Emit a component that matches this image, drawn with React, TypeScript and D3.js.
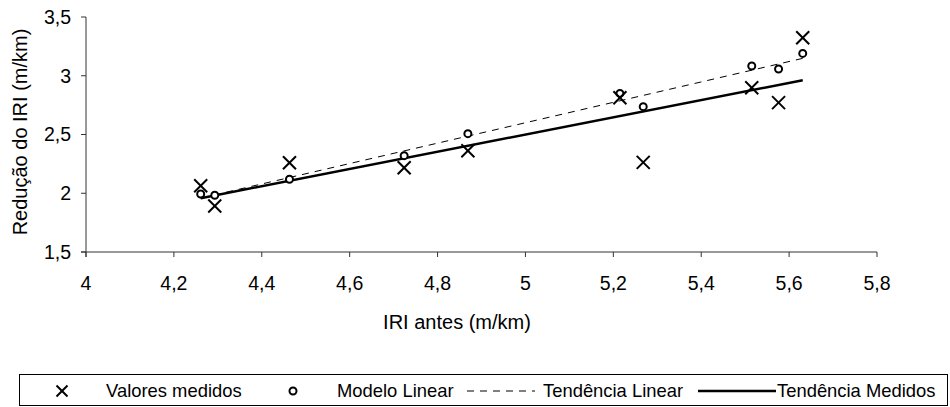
import React from 'react';
import { scaleLinear, line, mean, sum } from 'd3';

const width = 950;
const height = 407;
const margins = { top: 17, bottom: 155, left: 86, right: 73 };

// IRI antes (m/km)
const iriAntes = [4.261, 4.293, 4.463, 4.724, 4.869, 5.215, 5.268, 5.515, 5.576, 5.631];
// Valores medidos - reducao do IRI
const valoresMedidos = [2.064, 1.891, 2.26, 2.217, 2.362, 2.813, 2.263, 2.898, 2.771, 3.324];
// Modelo Linear
const modeloLinear = [1.994, 1.983, 2.119, 2.32, 2.507, 2.85, 2.737, 3.083, 3.057, 3.19];

const xTicks = [4, 4.2, 4.4, 4.6, 4.8, 5, 5.2, 5.4, 5.6, 5.8];
const yTicks = [1.5, 2, 2.5, 3, 3.5];

const fmt = (v: number) => String(v).replace('.', ',');
const font = 'Arial, "Liberation Sans", sans-serif';

// least squares trend line (like excel trendline)
function trend(xs: number[], ys: number[]) {
  const mx = mean(xs) as number;
  const my = mean(ys) as number;
  const sxy = sum(xs.map((x, i) => (x - mx) * (ys[i] - my)));
  const sxx = sum(xs.map((x) => (x - mx) * (x - mx)));
  const b = sxy / sxx;
  const a = my - b * mx;
  const x0 = Math.min(...xs);
  const x1 = Math.max(...xs);
  return [[x0, a + b * x0], [x1, a + b * x1]] as [number, number][];
}

const Cross = ({ x, y, s = 6.5 }: { x: number; y: number; s?: number }) => (
  <g stroke="#000" strokeWidth={2}>
    <line x1={x - s} y1={y - s} x2={x + s} y2={y + s} />
    <line x1={x - s} y1={y + s} x2={x + s} y2={y - s} />
  </g>
);

const Ring = ({ x, y }: { x: number; y: number }) => (
  <circle cx={x} cy={y} r={3.5} fill="#fff" stroke="#000" strokeWidth={2} />
);

export default function App() {
  const xScale = scaleLinear().domain([4, 5.8]).range([margins.left, width - margins.right]);
  const yScale = scaleLinear().domain([1.5, 3.5]).range([height - margins.bottom, margins.top]);

  const path = line<[number, number]>()
    .x((d) => xScale(d[0]))
    .y((d) => yScale(d[1]));

  const trendMedidos = trend(iriAntes, valoresMedidos);
  const trendLinear = trend(iriAntes, modeloLinear);

  const y0 = yScale(1.5);
  const legY = 391;

  return (
    <svg width={width} height={height} style={{ position: 'absolute', left: 0, top: 0, background: '#fff' }}>
      <rect width={width} height={height} fill="#fff" />

      {/* axes */}
      <line x1={margins.left - 5} x2={xScale(5.8)} y1={y0} y2={y0} stroke="#333" />
      <line x1={margins.left} x2={margins.left} y1={yScale(3.5)} y2={y0 + 5} stroke="#333" />
      {xTicks.map((t) => (
        <g key={t} transform={`translate(${xScale(t)},0)`}>
          <line y1={y0} y2={y0 + 5} stroke="#333" />
          <text y={290} textAnchor="middle" fontFamily={font} fontSize={19.5}>{fmt(t)}</text>
        </g>
      ))}
      {yTicks.map((t) => (
        <g key={t} transform={`translate(0,${yScale(t)})`}>
          <line x1={margins.left - 5} x2={margins.left} stroke="#333" />
          <text x={71} dy="0.35em" textAnchor="end" fontFamily={font} fontSize={19.5}>{fmt(t)}</text>
        </g>
      ))}

      <text x={457} y={329} textAnchor="middle" fontFamily={font} fontSize={20}>IRI antes (m/km)</text>
      <text transform="translate(27,132) rotate(-90)" textAnchor="middle" fontFamily={font} fontSize={20}>
        Redução do IRI (m/km)
      </text>

      {/* trend lines */}
      <path d={path(trendLinear) || ''} fill="none" stroke="#000" strokeWidth={1} strokeDasharray="7,6" />
      <path d={path(trendMedidos) || ''} fill="none" stroke="#000" strokeWidth={2.5} />

      {/* points */}
      {iriAntes.map((x, i) => (
        <Ring key={'m' + i} x={xScale(x)} y={yScale(modeloLinear[i])} />
      ))}
      {iriAntes.map((x, i) => (
        <Cross key={'v' + i} x={xScale(x)} y={yScale(valoresMedidos[i])} />
      ))}

      {/* legend */}
      <rect x={19.5} y={374.5} width={928} height={31} fill="#fff" stroke="#000" />
      <Cross x={62} y={legY} s={5.5} />
      <text x={106} y={397} fontFamily={font} fontSize={18.4}>Valores medidos</text>
      <Ring x={293} y={legY} />
      <text x={337} y={397} fontFamily={font} fontSize={18.4}>Modelo Linear</text>
      <line x1={467} x2={535} y1={legY} y2={legY} stroke="#000" strokeDasharray="7,6" />
      <text x={543} y={397} fontFamily={font} fontSize={18.4}>Tendência Linear</text>
      <line x1={698} x2={776} y1={legY} y2={legY} stroke="#000" strokeWidth={2.5} />
      <text x={777} y={397} fontFamily={font} fontSize={18.4}>Tendência Medidos</text>
    </svg>
  );
}
